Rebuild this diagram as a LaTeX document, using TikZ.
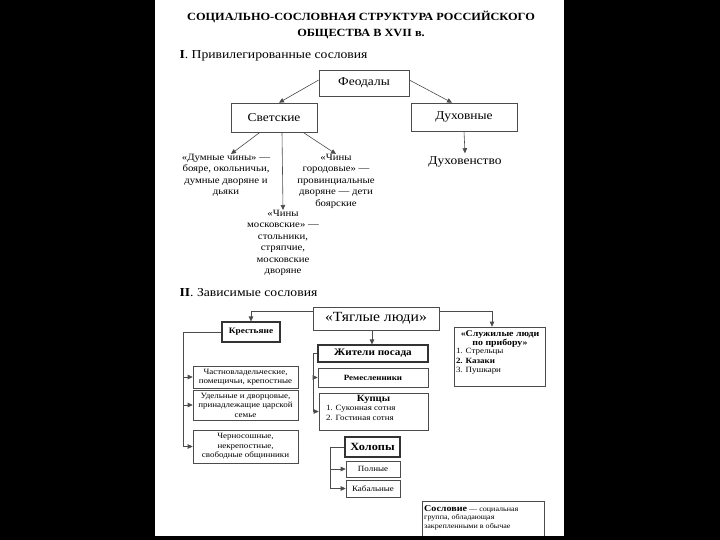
\documentclass[tikz,border=0pt]{standalone}
\usepackage{fontspec}
\setmainfont[FakeStretch=1.12]{Liberation Serif}
\usetikzlibrary{arrows.meta,positioning,calc}

\begin{document}
\begin{tikzpicture}[x=1pt,y=-1pt,
  box/.style={draw=black!70,line width=0.6pt,inner sep=1pt,align=center,font=\fontsize{8}{9.5}\selectfont},
  headbox/.style={box,font=\fontsize{12}{13}\selectfont},
  boldbox/.style={box,line width=1.1pt,draw=black!80,font=\bfseries\fontsize{8.3}{10}\selectfont},
  note/.style={align=center,inner sep=0pt,font=\fontsize{9.6}{11.5}\selectfont},
  section/.style={anchor=west,font=\fontsize{12.2}{14}\selectfont},
  flow/.style={-{Triangle[length=5pt,width=4.5pt]},draw=black!70,line width=0.6pt},
  link/.style={draw=black!70,line width=0.6pt}]
% page on black ground
\fill[black] (0,0) rectangle (720,540);
\fill[white] (155,0) rectangle (564,536);
\useasboundingbox (0,0) rectangle (720,540);
\node[font=\bfseries\fontsize{11}{16}\selectfont,align=center] (title) at (361,25) {СОЦИАЛЬНО-СОСЛОВНАЯ СТРУКТУРА РОССИЙСКОГО\\ОБЩЕСТВА В XVII в.};
% I. privileged
\node[section] (sec1) at (176,56) {\textbf{I}. Привилегированные сословия};
\node[headbox,minimum width=90pt,minimum height=26pt] (feod) at (364,83) {Феодалы};
\node[headbox,minimum width=86pt,minimum height=29pt] (svet) at (274,117.5) {Светские};
\node[headbox,minimum width=106pt,minimum height=28pt] (duh) at (464,117) {Духовные};
\node[note,anchor=north] (dumn) at (226,154) {«Думные чины» —\\бояре, окольничьи,\\думные дворяне и\\дьяки};
\node[note,anchor=north] (gorod) at (336,154) {«Чины\\городовые» —\\провинциальные\\дворяне — дети\\боярские};
\node[note,anchor=north] (mosk) at (283,210) {«Чины\\московские» —\\стольники,\\стряпчие,\\московские\\дворяне};
\node[font=\fontsize{12}{13}\selectfont] (duhov) at (465,162) {Духовенство};
\draw[flow] ([yshift=3pt]feod.west) -- ([xshift=5pt]svet.north);
\draw[flow] ([yshift=3pt]feod.east) -- ([xshift=-12pt]duh.north);
\draw[flow] ([xshift=-14pt]svet.south) -- ([xshift=5pt]dumn.north);
\draw[flow] ([xshift=8pt]svet.south) -- (mosk.north);
\draw[flow] ([xshift=29pt]svet.south) -- (gorod.north);
\draw[flow] (duh.south) -- (duhov.north);
% II. dependent
\node[section] (sec2) at (176,293) {\textbf{II}. Зависимые сословия};
\node[headbox,minimum width=126pt,minimum height=23pt,font=\fontsize{14}{15}\selectfont] (tyag) at (376,318.5) {«Тяглые люди»};
\node[boldbox,minimum width=58pt,minimum height=20pt] (kres) at (251,332) {Крестьяне};
\node[box,minimum width=91pt,minimum height=59pt] (sluzh) at (500,356.5) {};
\node[box,draw=none,anchor=north,align=left,inner sep=0pt] (sluzht) at (500,330) {\parbox{88pt}{\centering\bfseries\fontsize{8.8}{9.5}\selectfont«Служилые люди\\по прибору»}\\1. Стрельцы\\\textbf{2. Казаки}\\3. Пушкари};
\node[boldbox,minimum width=110pt,minimum height=17pt,font=\bfseries\fontsize{10}{11}\selectfont] (zhit) at (373,353.5) {Жители посада};
\node[box,minimum width=110pt,minimum height=19pt,font=\bfseries\fontsize{8}{9}\selectfont] (remes) at (373,377.5) {Ремесленники};
\node[box,minimum width=109pt,minimum height=37pt] (kup) at (373.5,411.5) {};
\node[box,draw=none,anchor=north,align=left,inner sep=0pt] (kupt) at (373.5,395) {\parbox{95pt}{\centering\bfseries\fontsize{9.5}{10}\selectfont Купцы}\\1. Суконная сотня\\2. Гостиная сотня};
\node[boldbox,minimum width=55pt,minimum height=20pt,font=\bfseries\fontsize{11}{12}\selectfont] (holop) at (372.5,447) {Холопы};
\node[box,minimum width=54pt,minimum height=16pt] (poln) at (373,469) {Полные};
\node[box,minimum width=54pt,minimum height=17pt] (kab) at (373,488.5) {Кабальные};
\node[box,minimum width=105pt,minimum height=22pt] (chast) at (245.5,377) {Частновладельческие,\\помещичьи, крепостные};
\node[box,minimum width=105pt,minimum height=30pt] (udel) at (245.5,405) {Удельные и дворцовые,\\принадлежащие царской\\семье};
\node[box,minimum width=105pt,minimum height=33pt] (chern) at (245.5,446.5) {Черносошные,\\некрепостные,\\свободные общинники};
\draw[flow] ([yshift=7pt]tyag.west) -| (kres.north);
\draw[flow] ([yshift=7pt]tyag.east) -| ([xshift=-8pt]sluzh.north);
\draw[flow] ([xshift=-4pt]tyag.south) -- ([xshift=-1pt]zhit.north);
% brackets
\coordinate (kresbar) at (183,0);
\draw[flow] (kres.west) -| (kresbar |- chern.west) -- (chern.west);
\draw[flow] (kresbar |- chast.west) -- (chast.west);
\draw[flow] (kresbar |- udel.west) -- (udel.west);
\coordinate (zhitbar) at (313,0);
\draw[flow] (zhit.west) -| (zhitbar |- kup.west) -- (kup.west);
\draw[flow] (zhitbar |- remes.west) -- (remes.west);
\coordinate (holopbar) at (330,0);
\draw[flow] (holop.west) -| (holopbar |- kab.west) -- (kab.west);
\draw[flow] (holopbar |- poln.west) -- (poln.west);
% definition, cut by the page edge
\node[box,anchor=north west,minimum width=122pt,minimum height=45pt] (soslov) at (422,501) {};
\node[anchor=north west,align=left,inner sep=0pt,font=\fontsize{7.2}{8.5}\selectfont] (soslovt) at (424,505) {{\bfseries\fontsize{9}{9}\selectfont Сословие} — социальная\\группа, обладающая\\закрепленными в обычае};
\fill[black] (150,536) rectangle (570,540);
\end{tikzpicture}
\end{document}
